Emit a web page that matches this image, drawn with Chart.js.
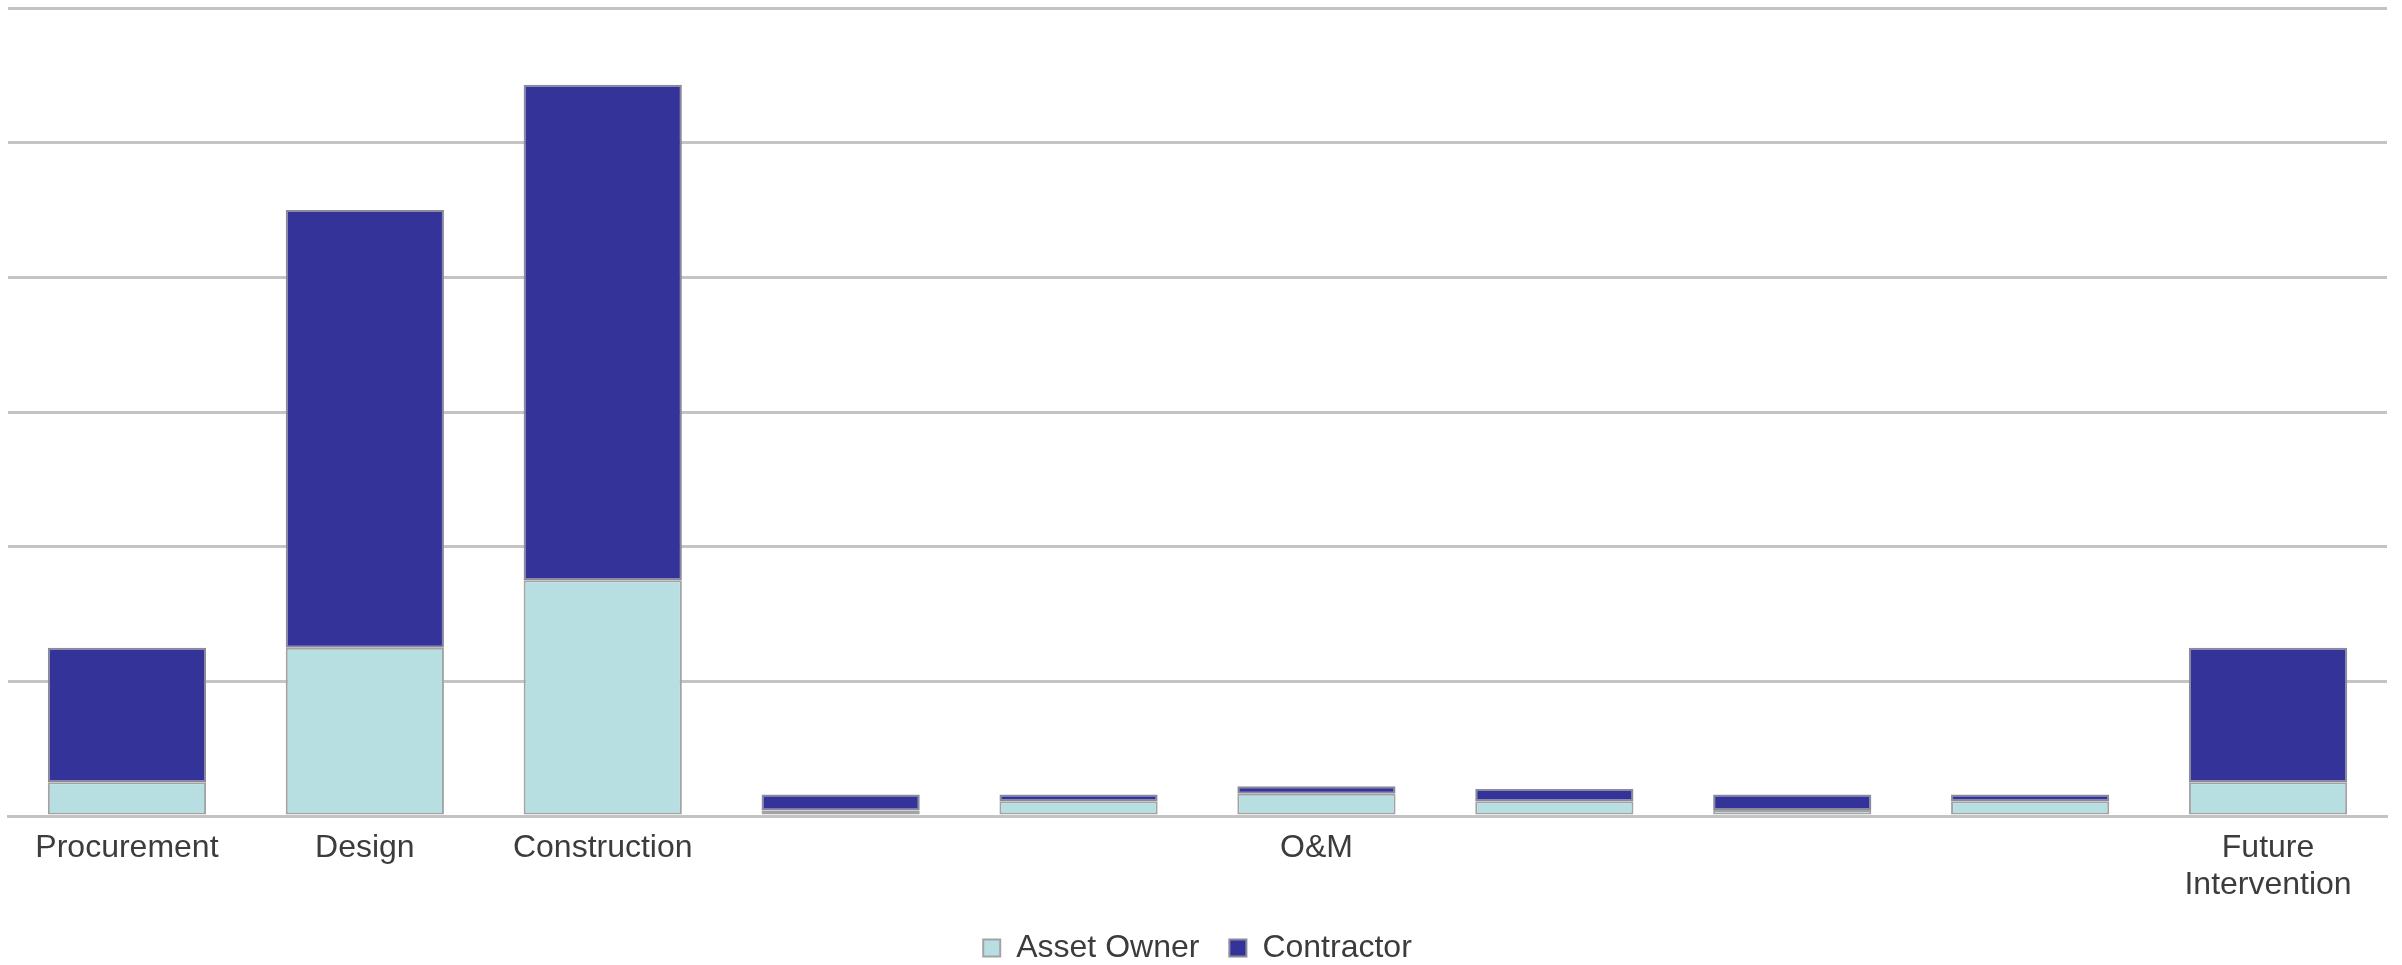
<!DOCTYPE html>
<html>
<head>
<meta charset="utf-8">
<script src="https://cdn.jsdelivr.net/npm/chart.js@4"></script>
<style>
  html, body { margin: 0; padding: 0; background: #fff; }
  #wrap { width: 2402px; height: 965px; }
</style>
</head>
<body>
<div id="wrap"><canvas id="phaseChart"></canvas></div>
<script>
// categories (only some bars carry a label, O&M sits under the 3rd O&M bar)
const categories = ['Procurement', 'Design', 'Construction', '', '', 'O&M', '', '', '', ['Future', 'Intervention']];
const assetOwner = [2.5, 12.5, 17.5, 0.4, 1.1, 1.65, 1.1, 0.45, 1.1, 2.5];
const contractor = [10, 32.5, 36.8, 1.2, 0.5, 0.55, 0.9, 1.15, 0.5, 10];
const seriesNames = ['Asset Owner', 'Contractor'];
const yMax = 60;
const yStep = 10;

const FONT = "'Liberation Sans', Arial, sans-serif";

const ctx = document.getElementById('phaseChart').getContext('2d');
new Chart(ctx, {
  type: 'bar',
  data: {
    labels: categories,
    datasets: [
      {
        label: seriesNames[0],
        data: assetOwner,
        backgroundColor: '#b7dfe2',
        borderColor: '#a3a3a3',
        borderWidth: 2,
        borderSkipped: false,
        barPercentage: 0.665,
        categoryPercentage: 1,
      },
      {
        label: seriesNames[1],
        data: contractor,
        backgroundColor: '#333399',
        borderColor: '#8a8a9a',
        borderWidth: 2,
        borderSkipped: false,
        barPercentage: 0.665,
        categoryPercentage: 1,
      }
    ]
  },
  options: {
    responsive: true,
    maintainAspectRatio: false,
    animation: false,
    layout: { padding: { left: 8, right: 15, top: 8, bottom: -9 } },
    plugins: {
      tooltip: { enabled: false },
      legend: {
        position: 'bottom',
        labels: {
          boxWidth: 17,
          boxHeight: 17,
          padding: 30,
          color: '#3c3c3c',
          font: { family: FONT, size: 32 }
        }
      }
    },
    scales: {
      x: {
        stacked: true,
        grid: { display: false, drawTicks: false },
        border: { display: true, color: '#c4c4c4', width: 3 },
        ticks: {
          padding: 14,
          maxRotation: 0,
          autoSkip: false,
          color: '#3c3c3c',
          font: { family: FONT, size: 32, lineHeight: 1.15 }
        },
        afterFit: s => { s.height = 86; }
      },
      y: {
        stacked: true,
        min: 0,
        max: yMax,
        ticks: { display: false, stepSize: yStep },
        grid: { color: '#c4c4c4', lineWidth: 3, drawTicks: false },
        border: { display: false }
      }
    }
  }
});
</script>
</body>
</html>
